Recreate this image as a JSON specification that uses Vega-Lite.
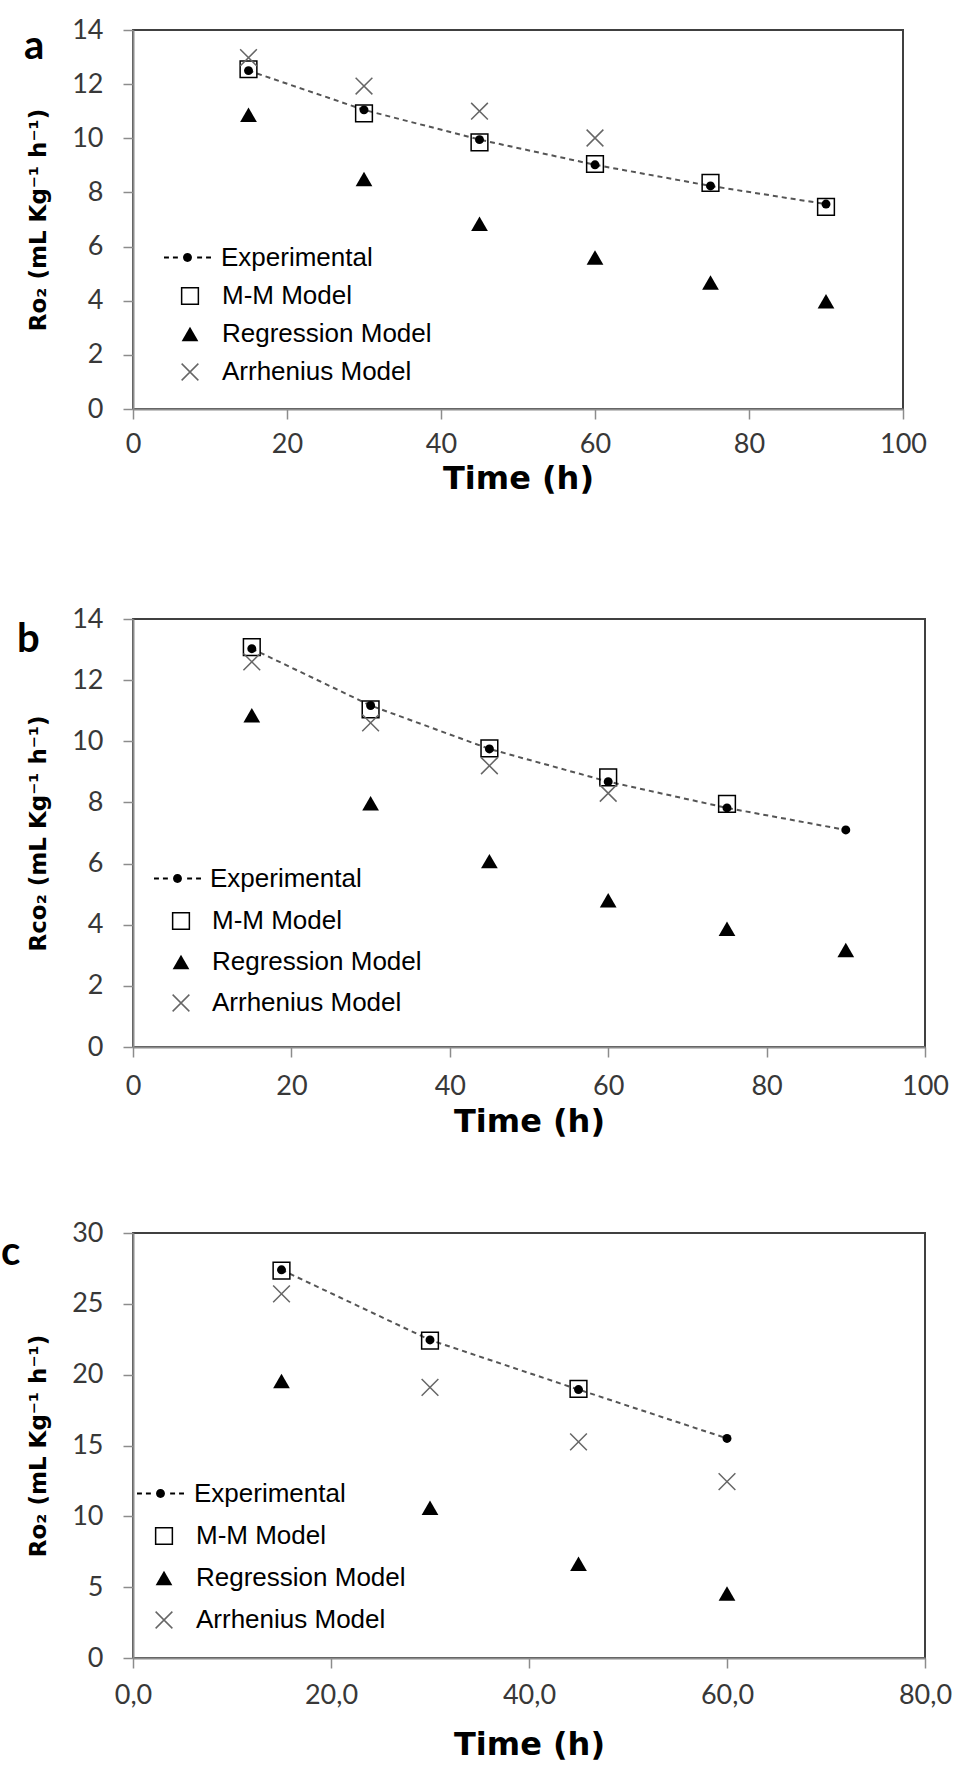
{
  "$schema": "https://vega.github.io/schema/vega-lite/v6.json",
  "background": "white",
  "padding": {"left": 0, "top": 15, "right": 5, "bottom": 5},
  "spacing": 80,
  "config": {
    "font": "Lato",
    "view": {"stroke": "#404040", "strokeWidth": 2},
    "axis": {"grid": false, "domainColor": "#8c8c8c", "domainWidth": 2, "tickColor": "#8c8c8c", "tickWidth": 1.5, "tickSize": 10, "labelFont": "Lato", "labelFontSize": 27, "labelColor": "#383838", "labelFlush": false, "titleColor": "#000000"},
    "axisX": {"titleFont": "DejaVu Sans", "titleFontSize": 32, "titleFontWeight": "bold"},
    "axisY": {"labelPadding": 20, "titleFont": "DejaVu Sans", "titleFontSize": 23, "titleFontWeight": "bold", "titlePadding": 21},
    "legend": {"labelFont": "Liberation Sans", "labelFontSize": 26, "labelColor": "#000000", "labelLimit": 400, "padding": 0},
    "title": {"font": "Lato", "fontSize": 40, "fontWeight": "bold", "color": "#000000", "anchor": "start", "frame": "group", "baseline": "alphabetic", "offset": 0}
  },
  "datasets": {
    "a": [
      {"t": 15, "s": "Experimental", "v": 12.5}, {"t": 30, "s": "Experimental", "v": 11.05}, {"t": 45, "s": "Experimental", "v": 9.95}, {"t": 60, "s": "Experimental", "v": 9.02}, {"t": 75, "s": "Experimental", "v": 8.24}, {"t": 90, "s": "Experimental", "v": 7.57},
      {"t": 15, "s": "M-M Model", "v": 12.55}, {"t": 30, "s": "M-M Model", "v": 10.92}, {"t": 45, "s": "M-M Model", "v": 9.85}, {"t": 60, "s": "M-M Model", "v": 9.05}, {"t": 75, "s": "M-M Model", "v": 8.35}, {"t": 90, "s": "M-M Model", "v": 7.47},
      {"t": 15, "s": "Regression Model", "v": 10.87}, {"t": 30, "s": "Regression Model", "v": 8.5}, {"t": 45, "s": "Regression Model", "v": 6.84}, {"t": 60, "s": "Regression Model", "v": 5.6}, {"t": 75, "s": "Regression Model", "v": 4.67}, {"t": 90, "s": "Regression Model", "v": 3.98},
      {"t": 15, "s": "Arrhenius Model", "v": 12.98}, {"t": 30, "s": "Arrhenius Model", "v": 11.93}, {"t": 45, "s": "Arrhenius Model", "v": 11.0}, {"t": 60, "s": "Arrhenius Model", "v": 10.01}
    ],
    "b": [
      {"t": 15, "s": "Experimental", "v": 13.03}, {"t": 30, "s": "Experimental", "v": 11.17}, {"t": 45, "s": "Experimental", "v": 9.75}, {"t": 60, "s": "Experimental", "v": 8.68}, {"t": 75, "s": "Experimental", "v": 7.82}, {"t": 90, "s": "Experimental", "v": 7.1},
      {"t": 15, "s": "M-M Model", "v": 13.08}, {"t": 30, "s": "M-M Model", "v": 11.04}, {"t": 45, "s": "M-M Model", "v": 9.77}, {"t": 60, "s": "M-M Model", "v": 8.82}, {"t": 75, "s": "M-M Model", "v": 7.95},
      {"t": 15, "s": "Regression Model", "v": 10.85}, {"t": 30, "s": "Regression Model", "v": 7.97}, {"t": 45, "s": "Regression Model", "v": 6.08}, {"t": 60, "s": "Regression Model", "v": 4.8}, {"t": 75, "s": "Regression Model", "v": 3.87}, {"t": 90, "s": "Regression Model", "v": 3.17},
      {"t": 15, "s": "Arrhenius Model", "v": 12.6}, {"t": 30, "s": "Arrhenius Model", "v": 10.6}, {"t": 45, "s": "Arrhenius Model", "v": 9.2}, {"t": 60, "s": "Arrhenius Model", "v": 8.3}
    ],
    "c": [
      {"t": 15, "s": "Experimental", "v": 27.4}, {"t": 30, "s": "Experimental", "v": 22.45}, {"t": 45, "s": "Experimental", "v": 18.95}, {"t": 60, "s": "Experimental", "v": 15.5},
      {"t": 15, "s": "M-M Model", "v": 27.35}, {"t": 30, "s": "M-M Model", "v": 22.4}, {"t": 45, "s": "M-M Model", "v": 19.0},
      {"t": 15, "s": "Regression Model", "v": 19.55}, {"t": 30, "s": "Regression Model", "v": 10.6}, {"t": 45, "s": "Regression Model", "v": 6.65}, {"t": 60, "s": "Regression Model", "v": 4.55},
      {"t": 15, "s": "Arrhenius Model", "v": 25.7}, {"t": 30, "s": "Arrhenius Model", "v": 19.1}, {"t": 45, "s": "Arrhenius Model", "v": 15.25}, {"t": 60, "s": "Arrhenius Model", "v": 12.45}
    ]
  },
  "vconcat": [
    {
      "width": 770, "height": 379,
      "title": {"text": "a", "dx": -109, "dy": 55},
      "data": {"name": "a"},
      "encoding": {
        "x": {"field": "t", "type": "quantitative", "scale": {"domain": [0, 100], "nice": false}, "axis": {"values": [0, 20, 40, 60, 80, 100], "labelPadding": 12, "titlePadding": 6, "titleLineHeight": 29, "title": ["Time (h)", " "]}},
        "y": {"field": "v", "type": "quantitative", "scale": {"domain": [0, 14], "nice": false}, "axis": {"values": [0, 2, 4, 6, 8, 10, 12, 14], "title": "Rᴏ₂ (mL Kg⁻¹ h⁻¹)"}}
      },
      "layer": [
        {"transform": [{"filter": "datum.s === 'Experimental'"}], "mark": {"type": "line", "color": "#555555", "strokeWidth": 2, "strokeDash": [5, 4]}, "encoding": {}},
        {"transform": [{"filter": "datum.s !== 'Experimental'"}], "mark": {"type": "point", "size": 280, "strokeWidth": 1.5, "opacity": 1},
         "encoding": {
           "shape": {"field": "s", "type": "nominal", "scale": {"domain": ["M-M Model", "Regression Model", "Arrhenius Model"], "range": ["square", "triangle-up", "M-1,-1L1,1M-1,1L1,-1"]}, "legend": {"title": null, "orient": "none", "legendX": 44, "legendY": 253, "labelOffset": 19, "rowPadding": 12, "symbolSize": 280, "symbolStrokeWidth": 1.5}},
           "fill": {"field": "s", "type": "nominal", "scale": {"domain": ["M-M Model", "Regression Model", "Arrhenius Model"], "range": ["transparent", "#000000", "transparent"]}, "legend": {"title": null, "orient": "none", "legendX": 44, "legendY": 253, "labelOffset": 19, "rowPadding": 12, "symbolSize": 280, "symbolStrokeWidth": 1.5}},
           "stroke": {"field": "s", "type": "nominal", "scale": {"domain": ["M-M Model", "Regression Model", "Arrhenius Model"], "range": ["#000000", "transparent", "#666666"]}, "legend": {"title": null, "orient": "none", "legendX": 44, "legendY": 253, "labelOffset": 19, "rowPadding": 12, "symbolSize": 280, "symbolStrokeWidth": 1.5}}
         }},
        {"transform": [{"filter": "datum.s === 'Experimental'"}], "mark": {"type": "point", "filled": true, "color": "#000000", "size": 80},
         "encoding": {"opacity": {"field": "s", "type": "ordinal", "scale": {"domain": ["Experimental"], "range": [1]}, "legend": {"title": null, "orient": "none", "legendX": 31, "legendY": 204, "labelOffset": 10, "symbolType": "M-1,-0.045H-0.79V0.045H-1Z M-0.62,-0.045H-0.41V0.045H-0.62Z M0.41,-0.045H0.62V0.045H0.41Z M0.79,-0.045H1V0.045H0.79Z M-0.19,0A0.19,0.19,0,1,0,0.19,0A0.19,0.19,0,1,0,-0.19,0Z", "symbolSize": 2209, "symbolFillColor": "#000000", "symbolStrokeColor": "#000000", "symbolStrokeWidth": 0}}}}
      ]
    },
    {
      "width": 792, "height": 428,
      "title": {"text": "b", "dx": -116, "dy": 59},
      "data": {"name": "b"},
      "encoding": {
        "x": {"field": "t", "type": "quantitative", "scale": {"domain": [0, 100], "nice": false}, "axis": {"values": [0, 20, 40, 60, 80, 100], "labelPadding": 16, "titlePadding": 7, "title": "Time (h)"}},
        "y": {"field": "v", "type": "quantitative", "scale": {"domain": [0, 14], "nice": false}, "axis": {"values": [0, 2, 4, 6, 8, 10, 12, 14], "title": "Rᴄᴏ₂ (mL Kg⁻¹ h⁻¹)"}}
      },
      "layer": [
        {"transform": [{"filter": "datum.s === 'Experimental'"}], "mark": {"type": "line", "color": "#555555", "strokeWidth": 2, "strokeDash": [5, 4]}, "encoding": {}},
        {"transform": [{"filter": "datum.s !== 'Experimental'"}], "mark": {"type": "point", "size": 280, "strokeWidth": 1.5, "opacity": 1},
         "encoding": {
           "shape": {"field": "s", "type": "nominal", "scale": {"domain": ["M-M Model", "Regression Model", "Arrhenius Model"], "range": ["square", "triangle-up", "M-1,-1L1,1M-1,1L1,-1"]}, "legend": {"title": null, "orient": "none", "legendX": 35, "legendY": 289, "labelOffset": 18, "rowPadding": 15, "symbolSize": 280, "symbolStrokeWidth": 1.5}},
           "fill": {"field": "s", "type": "nominal", "scale": {"domain": ["M-M Model", "Regression Model", "Arrhenius Model"], "range": ["transparent", "#000000", "transparent"]}, "legend": {"title": null, "orient": "none", "legendX": 35, "legendY": 289, "labelOffset": 18, "rowPadding": 15, "symbolSize": 280, "symbolStrokeWidth": 1.5}},
           "stroke": {"field": "s", "type": "nominal", "scale": {"domain": ["M-M Model", "Regression Model", "Arrhenius Model"], "range": ["#000000", "transparent", "#666666"]}, "legend": {"title": null, "orient": "none", "legendX": 35, "legendY": 289, "labelOffset": 18, "rowPadding": 15, "symbolSize": 280, "symbolStrokeWidth": 1.5}}
         }},
        {"transform": [{"filter": "datum.s === 'Experimental'"}], "mark": {"type": "point", "filled": true, "color": "#000000", "size": 80},
         "encoding": {"opacity": {"field": "s", "type": "ordinal", "scale": {"domain": ["Experimental"], "range": [1]}, "legend": {"title": null, "orient": "none", "legendX": 21, "legendY": 236, "labelOffset": 9, "symbolType": "M-1,-0.045H-0.79V0.045H-1Z M-0.62,-0.045H-0.41V0.045H-0.62Z M0.41,-0.045H0.62V0.045H0.41Z M0.79,-0.045H1V0.045H0.79Z M-0.19,0A0.19,0.19,0,1,0,0.19,0A0.19,0.19,0,1,0,-0.19,0Z", "symbolSize": 2209, "symbolFillColor": "#000000", "symbolStrokeColor": "#000000", "symbolStrokeWidth": 0}}}}
      ]
    },
    {
      "width": 792, "height": 425,
      "title": {"text": "c", "dx": -132, "dy": 58},
      "data": {"name": "c"},
      "encoding": {
        "x": {"field": "t", "type": "quantitative", "scale": {"domain": [0, 80], "nice": false}, "axis": {"values": [0, 20, 40, 60, 80], "labelExpr": "replace(format(datum.value, '.1f'), '.', ',')", "labelPadding": 14, "titlePadding": 21, "title": "Time (h)"}},
        "y": {"field": "v", "type": "quantitative", "scale": {"domain": [0, 30], "nice": false}, "axis": {"values": [0, 5, 10, 15, 20, 25, 30], "title": "Rᴏ₂ (mL Kg⁻¹ h⁻¹)"}}
      },
      "layer": [
        {"transform": [{"filter": "datum.s === 'Experimental'"}], "mark": {"type": "line", "color": "#555555", "strokeWidth": 2, "strokeDash": [5, 4]}, "encoding": {}},
        {"transform": [{"filter": "datum.s !== 'Experimental'"}], "mark": {"type": "point", "size": 280, "strokeWidth": 1.5, "opacity": 1},
         "encoding": {
           "shape": {"field": "s", "type": "nominal", "scale": {"domain": ["M-M Model", "Regression Model", "Arrhenius Model"], "range": ["square", "triangle-up", "M-1,-1L1,1M-1,1L1,-1"]}, "legend": {"title": null, "orient": "none", "legendX": 18, "legendY": 290, "labelOffset": 19, "rowPadding": 16, "symbolSize": 280, "symbolStrokeWidth": 1.5}},
           "fill": {"field": "s", "type": "nominal", "scale": {"domain": ["M-M Model", "Regression Model", "Arrhenius Model"], "range": ["transparent", "#000000", "transparent"]}, "legend": {"title": null, "orient": "none", "legendX": 18, "legendY": 290, "labelOffset": 19, "rowPadding": 16, "symbolSize": 280, "symbolStrokeWidth": 1.5}},
           "stroke": {"field": "s", "type": "nominal", "scale": {"domain": ["M-M Model", "Regression Model", "Arrhenius Model"], "range": ["#000000", "transparent", "#666666"]}, "legend": {"title": null, "orient": "none", "legendX": 18, "legendY": 290, "labelOffset": 19, "rowPadding": 16, "symbolSize": 280, "symbolStrokeWidth": 1.5}}
         }},
        {"transform": [{"filter": "datum.s === 'Experimental'"}], "mark": {"type": "point", "filled": true, "color": "#000000", "size": 80},
         "encoding": {"opacity": {"field": "s", "type": "ordinal", "scale": {"domain": ["Experimental"], "range": [1]}, "legend": {"title": null, "orient": "none", "legendX": 4, "legendY": 237, "labelOffset": 10, "symbolType": "M-1,-0.045H-0.79V0.045H-1Z M-0.62,-0.045H-0.41V0.045H-0.62Z M0.41,-0.045H0.62V0.045H0.41Z M0.79,-0.045H1V0.045H0.79Z M-0.19,0A0.19,0.19,0,1,0,0.19,0A0.19,0.19,0,1,0,-0.19,0Z", "symbolSize": 2209, "symbolFillColor": "#000000", "symbolStrokeColor": "#000000", "symbolStrokeWidth": 0}}}}
      ]
    }
  ],
  "resolve": {
    "scale": {"shape": "independent", "fill": "independent", "stroke": "independent", "opacity": "independent"},
    "legend": {"shape": "independent", "fill": "independent", "stroke": "independent", "opacity": "independent"}
  }
}
